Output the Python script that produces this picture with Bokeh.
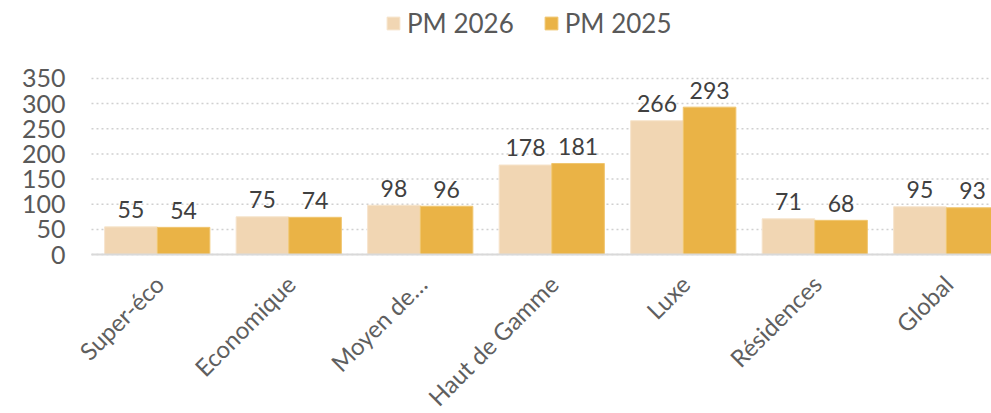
from bokeh.plotting import figure
from bokeh.models import Range1d, Legend, LegendItem, ColumnDataSource
from bokeh.embed import file_html
from bokeh.resources import INLINE
from bokeh.core.properties import value
import math

categories = ["Super-éco", "Economique", "Moyen de…", "Haut de Gamme", "Luxe", "Résidences", "Global"]
pm2026 = [55, 75, 98, 178, 266, 71, 95]
pm2025 = [54, 74, 96, 181, 293, 68, 93]
series_names = ["PM 2026", "PM 2025"]
y_ticks = [0, 50, 100, 150, 200, 250, 300, 350]

FONT = "Lato"
c26 = "#F1D6B3"
c25 = "#EAB346"

n = len(categories)
centers = [i + 0.5 for i in range(n)]
bw = 0.40
X_END = 6.844

# frame covers the whole canvas; category slots are 131.5 px wide, value 0 sits 254 px from top
p = figure(width=991, height=413, output_backend="svg", toolbar_location=None,
           x_range=Range1d(-0.692, X_END), y_range=Range1d(-316, 505),
           min_border_left=0, min_border_right=0, min_border_top=0, min_border_bottom=0)
p.outline_line_color = None
p.background_fill_color = "white"
p.border_fill_color = "white"
p.axis.visible = False
p.grid.visible = False

# dotted value grid
grid_src = ColumnDataSource(dict(x0=[0] * len(y_ticks), x1=[X_END] * len(y_ticks), y=y_ticks))
p.segment(x0="x0", y0="y", x1="x1", y1="y", source=grid_src,
          line_color="#D0D0D0", line_dash="2 3", line_width=1.5)

# value tick labels
p.text(x=[0] * len(y_ticks), y=y_ticks, text=[str(t) for t in y_ticks],
       text_align="right", text_baseline="middle", x_offset=-26,
       text_font=value(FONT), text_font_size="25px", text_color="#595959")

s26 = ColumnDataSource(dict(x=[c - bw / 2 for c in centers], top=pm2026, lab=[str(v) for v in pm2026]))
s25 = ColumnDataSource(dict(x=[c + bw / 2 for c in centers], top=pm2025, lab=[str(v) for v in pm2025]))

r26 = p.vbar(x="x", top="top", bottom=0, width=bw, source=s26, fill_color=c26, line_color="#F6E4CC", line_width=1)
r25 = p.vbar(x="x", top="top", bottom=0, width=bw, source=s25, fill_color=c25, line_color="#F0C670", line_width=1)

for src in (s26, s25):
    p.text(x="x", y="top", text="lab", source=src, text_align="center", text_baseline="alphabetic",
           y_offset=-17, text_font=value(FONT), text_font_size="23px", text_color="#404040")

# baseline (category axis line)
p.segment(x0=[0], y0=[0], x1=[X_END], y1=[0], line_color="#D9D9D9", line_width=2)

# category labels, rotated 45°
cat_src = ColumnDataSource(dict(x=centers, y=[0] * n, lab=categories))
p.text(x="x", y="y", text="lab", source=cat_src, angle=math.pi / 4,
       text_align="right", text_baseline="middle", x_offset=2, y_offset=25,
       text_font=value(FONT), text_font_size="24px", text_color="#5F5F5F")

legend = Legend(items=[LegendItem(label=series_names[0], renderers=[r26]),
                       LegendItem(label=series_names[1], renderers=[r25])],
                orientation="horizontal", location=(385, 374))
legend.background_fill_alpha = 0
legend.border_line_color = None
legend.label_text_font = FONT
legend.label_text_font_size = "26px"
legend.label_text_color = "#595959"
legend.glyph_width = 16
legend.glyph_height = 16
legend.spacing = 29
legend.label_standoff = 6
legend.padding = 0
legend.margin = 0
p.add_layout(legend)

open("out.html", "w").write(file_html(p, INLINE))
